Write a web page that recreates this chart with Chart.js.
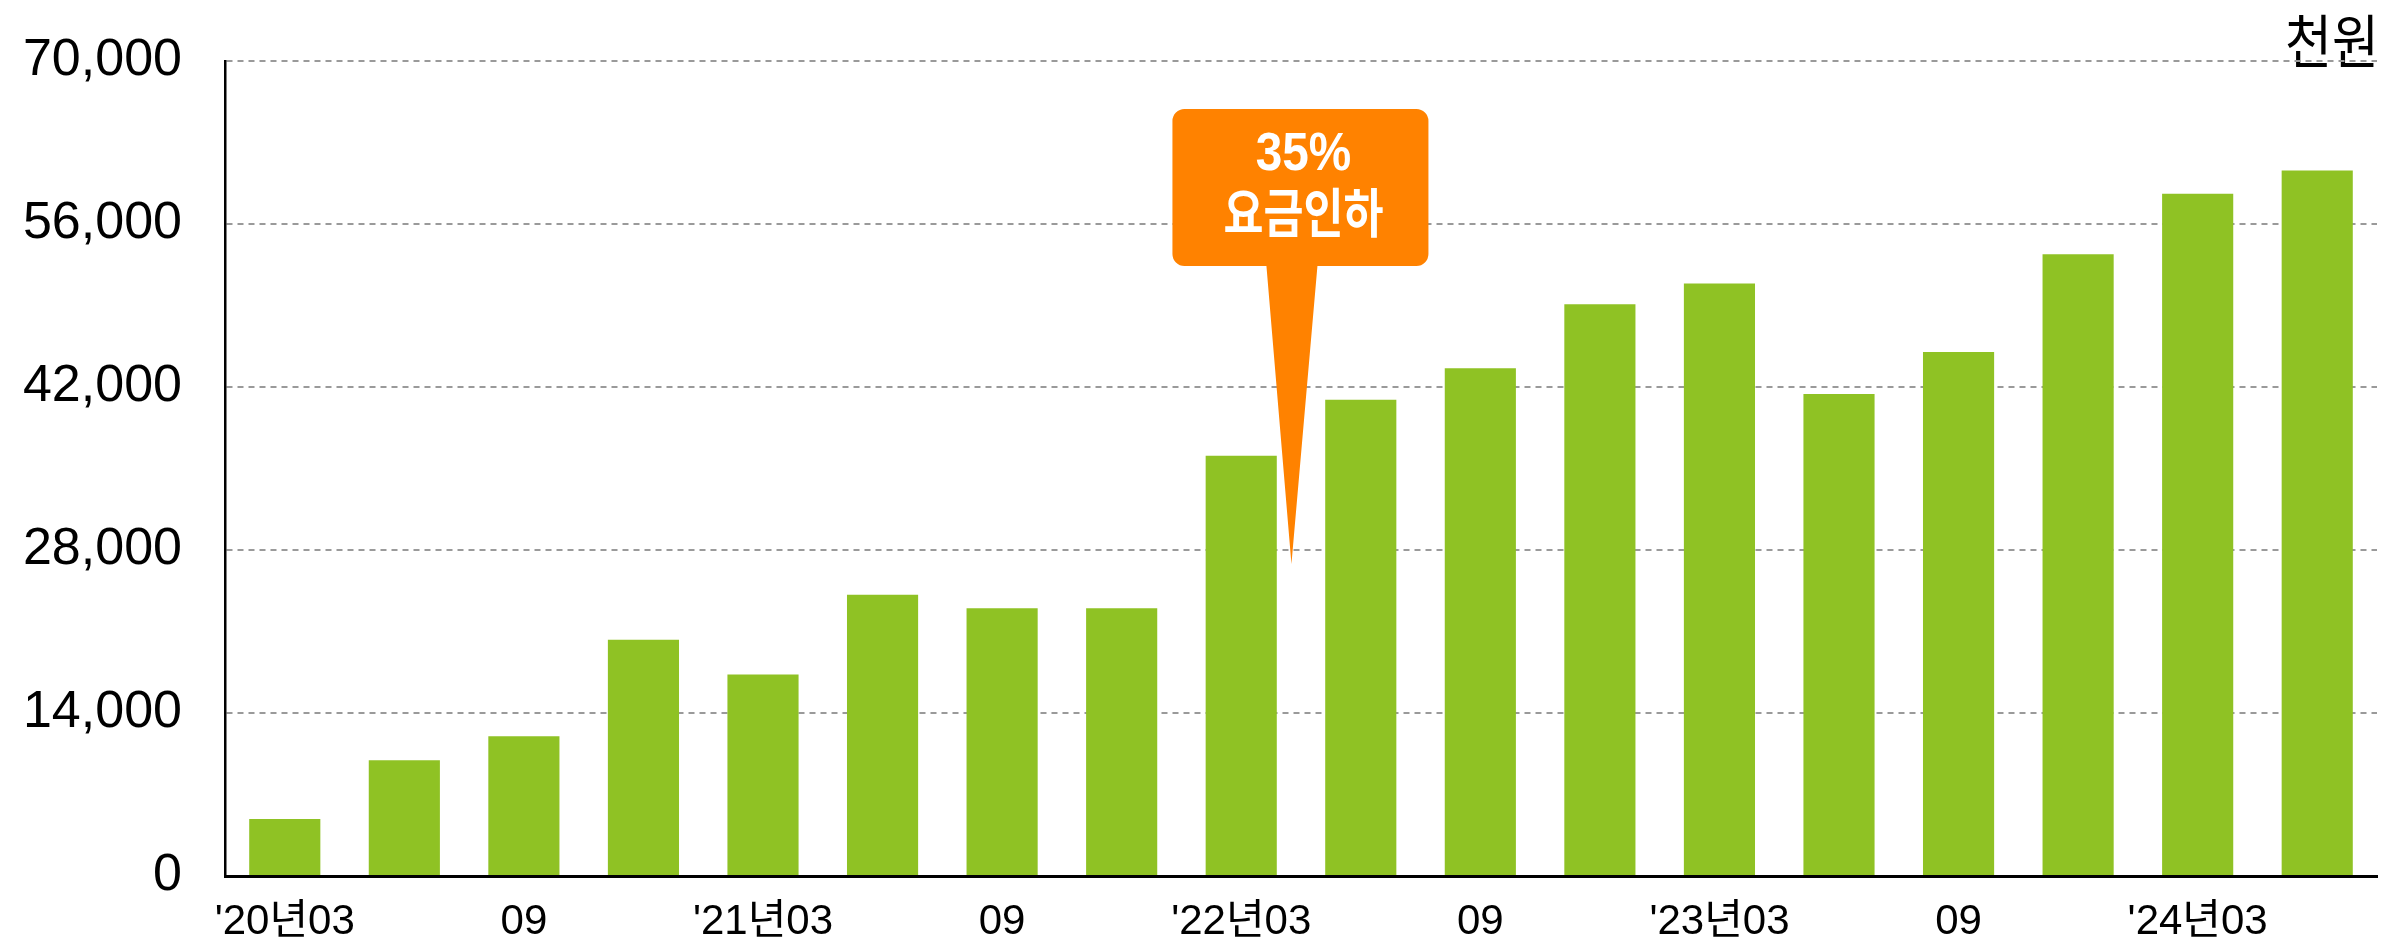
<!DOCTYPE html>
<html>
<head>
<meta charset="utf-8">
<script src="https://cdn.jsdelivr.net/npm/chart.js@4.4.1/dist/chart.umd.min.js"></script>
<style>
  html, body { margin: 0; padding: 0; background: #ffffff; overflow: hidden; }
  #wrap { width: 2383px; height: 951px; position: relative; background: #ffffff; }
</style>
</head>
<body>
<div id="wrap"><canvas id="c" width="2383" height="951"></canvas></div>
<script>
// ---- data ----
const categories = ["'20.03", "'20.06", "'20.09", "'20.12",
                    "'21.03", "'21.06", "'21.09", "'21.12",
                    "'22.03", "'22.06", "'22.09", "'22.12",
                    "'23.03", "'23.06", "'23.09", "'23.12",
                    "'24.03", "'24.06"];
const values = [4900, 9950, 12000, 20300, 17300, 24150, 23000, 23000,
                36100, 40900, 43600, 49100, 50900, 41400, 45000, 53400,
                58600, 60600];
const tickLabels = ["'20년03", "", "09", "", "'21년03", "", "09", "",
                    "'22년03", "", "09", "", "'23년03", "", "09", "",
                    "'24년03", ""];
const yTicks = [0, 14000, 28000, 42000, 56000, 70000];
const unitLabel = "천원";
const calloutLines = ["35%", "요금인하"];
const calloutAnchor = { index: 8.42, value: 26800 };

const LATIN = '"Liberation Sans", Arial, "Noto Sans CJK KR", sans-serif';
const KR = '"Noto Sans CJK KR", "Liberation Sans", sans-serif';

const deco = {
  id: 'deco',
  beforeDraw(chart) {
    const ctx = chart.ctx;
    const y = chart.scales.y;
    ctx.save();
    ctx.fillStyle = '#000000';
    ctx.font = '58px ' + KR;
    ctx.textAlign = 'right';
    ctx.textBaseline = 'middle';
    ctx.translate(chart.chartArea.right + 2, y.getPixelForValue(yTicks[yTicks.length - 1]) - 20);
    ctx.scale(0.88, 1);
    ctx.fillText(unitLabel, 0, 0);
    ctx.restore();
  },
  afterDraw(chart) {
    const ctx = chart.ctx;
    const xs = chart.scales.x, ys = chart.scales.y;
    const tipX = xs.getPixelForValue(calloutAnchor.index);
    const tipY = ys.getPixelForValue(calloutAnchor.value);
    const boxW = 256, boxH = 157, r = 12;
    const cx = tipX + 9;
    const left = cx - boxW / 2, top = tipY - 455;
    ctx.save();
    ctx.fillStyle = '#ff8200';
    ctx.beginPath();
    ctx.moveTo(left + r, top);
    ctx.lineTo(left + boxW - r, top);
    ctx.arcTo(left + boxW, top, left + boxW, top + r, r);
    ctx.lineTo(left + boxW, top + boxH - r);
    ctx.arcTo(left + boxW, top + boxH, left + boxW - r, top + boxH, r);
    ctx.lineTo(tipX + 26, top + boxH);
    ctx.lineTo(tipX, tipY);
    ctx.lineTo(tipX - 25, top + boxH);
    ctx.lineTo(left + r, top + boxH);
    ctx.arcTo(left, top + boxH, left, top + boxH - r, r);
    ctx.lineTo(left, top + r);
    ctx.arcTo(left, top, left + r, top, r);
    ctx.closePath();
    ctx.fill();

    ctx.fillStyle = '#ffffff';
    ctx.textAlign = 'center';
    ctx.textBaseline = 'middle';
    ctx.save();
    ctx.translate(cx + 3, top + 46);
    ctx.scale(0.9, 1);
    ctx.font = 'bold 53px ' + LATIN;
    ctx.fillText(calloutLines[0], 0, 0);
    ctx.restore();
    ctx.save();
    ctx.translate(cx + 3, top + 104);
    ctx.scale(0.82, 1);
    ctx.font = 'bold 53px ' + KR;
    ctx.fillText(calloutLines[1], 0, 0);
    ctx.restore();
    ctx.restore();
  }
};

new Chart(document.getElementById('c'), {
  type: 'bar',
  data: {
    labels: categories,
    datasets: [{
      data: values,
      backgroundColor: '#8fc224',
      borderWidth: 0,
      categoryPercentage: 1.0,
      barPercentage: 0.595
    }]
  },
  options: {
    responsive: false,
    animation: false,
    devicePixelRatio: 1,
    layout: { padding: { top: 61, right: 6, left: 0, bottom: 0 } },
    plugins: { legend: { display: false }, tooltip: { enabled: false } },
    scales: {
      x: {
        grid: { display: false, drawTicks: false },
        border: { display: true, color: '#000000', width: 3 },
        ticks: {
          autoSkip: false,
          maxRotation: 0,
          minRotation: 0,
          padding: 21,
          color: '#000000',
          font: { family: LATIN, size: 42 },
          callback: (v, i) => tickLabels[i]
        },
        afterFit: s => { s.height = 75; }
      },
      y: {
        min: yTicks[0],
        max: yTicks[yTicks.length - 1],
        afterBuildTicks: s => { s.ticks = yTicks.map(v => ({ value: v })); },
        grid: { color: '#9a9a9a', lineWidth: 2, drawTicks: true, tickLength: 43, tickColor: 'rgba(0,0,0,0)' },
        border: { display: true, color: '#000000', width: 2.5, dash: [6, 5] },
        ticks: {
          padding: 0,
          color: '#000000',
          font: { family: LATIN, size: 52 },
          callback: v => Number(v).toLocaleString('en-US')
        },
        afterFit: s => { s.width = 225; }
      }
    }
  },
  plugins: [deco]
});
</script>
</body>
</html>
